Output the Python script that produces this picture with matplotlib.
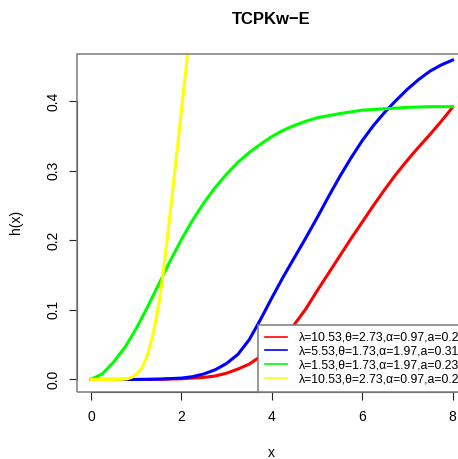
import numpy as np
import matplotlib
matplotlib.use("Agg")
import matplotlib.pyplot as plt
from matplotlib.patches import Rectangle

plt.rcParams['font.family'] = ['Liberation Sans', 'DejaVu Sans']

# hazard curves h(x), one per parameter set
x_red = [0, 0.5, 1, 1.5, 2, 2.25, 2.5, 2.75, 3, 3.25, 3.5, 3.75, 4, 4.25, 4.5,
         4.75, 5, 5.25, 5.5, 5.75, 6, 6.25, 6.5, 6.75, 7, 7.25, 7.5, 7.75, 8]
h_red = [0, 0, 0, 0.0002, 0.001, 0.002, 0.003, 0.005, 0.009, 0.015, 0.022,
         0.033, 0.046, 0.061, 0.079, 0.101, 0.127, 0.152, 0.177, 0.202, 0.226,
         0.250, 0.273, 0.295, 0.315, 0.334, 0.352, 0.371, 0.391]

x_blue = [0, 0.5, 1, 1.5, 2, 2.25, 2.5, 2.75, 3, 3.25, 3.5, 3.75, 4, 4.25, 4.5,
          4.75, 5, 5.25, 5.5, 5.75, 6, 6.25, 6.5, 6.75, 7, 7.25, 7.5, 7.75, 8]
h_blue = [0, 0, 0, 0.0005, 0.002, 0.004, 0.008, 0.014, 0.023, 0.036, 0.057,
          0.086, 0.117, 0.147, 0.175, 0.203, 0.232, 0.262, 0.291, 0.318, 0.343,
          0.365, 0.384, 0.401, 0.417, 0.431, 0.443, 0.452, 0.459]

x_green = [0, 0.25, 0.5, 0.75, 1, 1.25, 1.5, 1.75, 2, 2.25, 2.5, 2.75, 3, 3.25,
           3.5, 3.75, 4, 4.25, 4.5, 4.75, 5, 5.5, 6, 6.5, 7, 7.5, 8]
h_green = [0, 0.008, 0.025, 0.046, 0.073, 0.104, 0.137, 0.170, 0.201, 0.229,
           0.254, 0.276, 0.295, 0.312, 0.326, 0.338, 0.349, 0.358, 0.365,
           0.371, 0.376, 0.382, 0.387, 0.389, 0.391, 0.392, 0.392]

x_yellow = [0, 0.25, 0.5, 0.7, 0.8, 0.9, 1.0, 1.05, 1.1, 1.15, 1.2, 1.25, 1.3,
            1.35, 1.4, 1.45, 1.5, 1.55, 1.6, 1.7, 1.8, 1.9, 2.0, 2.1, 2.2]
h_yellow = [0, 0, 0, 0.0002, 0.001, 0.003, 0.007, 0.010, 0.014, 0.020, 0.027,
            0.036, 0.047, 0.059, 0.074, 0.090, 0.108, 0.130, 0.154, 0.209,
            0.267, 0.326, 0.385, 0.445, 0.505]

labels = ["λ=10.53,θ=2.73,α=0.97,a=0.2",
          "λ=5.53,θ=1.73,α=1.97,a=0.31",
          "λ=1.53,θ=1.73,α=1.97,a=0.23",
          "λ=10.53,θ=2.73,α=0.97,a=0.2"]
colors = ['#FF0000', '#0000FF', '#00FF00', '#FFFF00']

xticks = [0, 2, 4, 6, 8]
yticks = [0.0, 0.1, 0.2, 0.3, 0.4]

W, H = 458, 459
ax_l, ax_r, ax_t, ax_b = 76.5, 467, 54, 392
fig = plt.figure(figsize=(W / 100, H / 100), dpi=100)
ax = fig.add_axes([ax_l / W, (H - ax_b) / H, (ax_r - ax_l) / W, (ax_b - ax_t) / H])

series = [(x_red, h_red), (x_blue, h_blue), (x_green, h_green), (x_yellow, h_yellow)]
for (xs, hs), c, lab in zip(series, colors, labels):
    ax.plot(xs, hs, color=c, lw=2.2, label=lab, solid_joinstyle='round')

ax.set_xlim(-0.32, 8.32)
ax.set_ylim(-0.018, 0.4677)

ax.set_xticks(xticks)
ax.set_xticklabels([str(t) for t in xticks])
ax.set_yticks(yticks)
ax.set_yticklabels(["%.1f" % t for t in yticks], rotation=90, va='center')
ax.tick_params(axis='x', length=5.8, width=0.8, color='#222222', labelsize=10, pad=7.5)
ax.tick_params(axis='y', length=5.8, width=0.8, color='#222222', labelsize=10, pad=5.8)

# dark axis lines only between outer ticks, gray frame around the panel
for side in ['top', 'right']:
    ax.spines[side].set_visible(False)
ax.spines['left'].set_bounds(0.0, 0.4)
ax.spines['bottom'].set_bounds(0, 8)
for side in ['left', 'bottom']:
    ax.spines[side].set_color('#222222')
    ax.spines[side].set_linewidth(0.8)
ax.add_patch(Rectangle((0, 0), 1, 1, transform=ax.transAxes, fill=False,
                       edgecolor='#7a7a7a', lw=1.1, clip_on=False, zorder=5))

# legend anchored by its left edge, running off past the right side
leg = ax.legend(loc='lower left', bbox_to_anchor=((258 - ax_l) / (ax_r - ax_l), 0),
                borderaxespad=0, fontsize=8.8, frameon=True, fancybox=False,
                handlelength=1.8, handletextpad=1.0, labelspacing=0.15,
                borderpad=0.55)
leg.get_frame().set_edgecolor('#7a7a7a')
leg.get_frame().set_linewidth(1.1)
leg.get_frame().set_alpha(1)
for line in leg.get_lines():
    line.set_linewidth(1.2)

fig.text((ax_l + ax_r) / 2 / W, 1 - 19 / H, "TCPKw−E", ha='center', va='center',
         fontsize=12, fontweight='bold')
fig.text((ax_l + ax_r) / 2 / W, 1 - 453 / H, "x", ha='center', va='center', fontsize=10)
fig.text(16 / W, 1 - 222 / H, "h(x)", ha='center', va='center', fontsize=10,
         rotation=90)

fig.savefig("out.png", dpi=100)
